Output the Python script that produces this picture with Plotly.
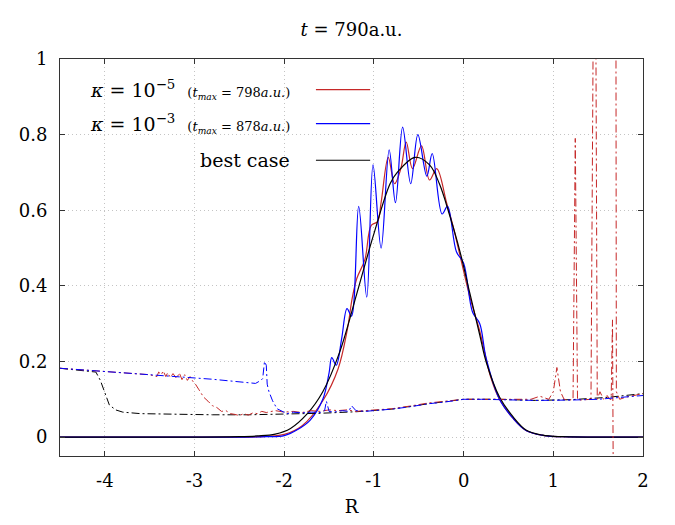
import plotly.graph_objects as go

# ---------------- data ----------------
# solid curves (densities)
black_x = [-4.5, -3.0, -2.5, -2.3, -2.1, -1.93, -1.75, -1.57, -1.38, -1.19, -1.01, -0.82, -0.74, -0.54,
           -0.38, -0.27, -0.16, -0.04, 0.07, 0.18, 0.25, 0.4, 0.55, 0.7, 0.88, 1.1, 2.0]
black_y = [0, 0, 0.001, 0.003, 0.008, 0.023, 0.06, 0.12, 0.226, 0.38, 0.53, 0.67, 0.70, 0.74,
           0.72, 0.67, 0.59, 0.49, 0.38, 0.27, 0.2, 0.106, 0.054, 0.018, 0.005, 0.001, 0]

red_x = [-4.5, -3.0, -2.5, -2.2, -2.0, -1.8, -1.57, -1.4, -1.3, -1.24, -1.19, -1.1, -1.03, -0.96, -0.92,
         -0.84, -0.77, -0.7, -0.64, -0.57, -0.47, -0.38, -0.3, -0.19, -0.12, -0.04, 0.07, 0.18, 0.3,
         0.4, 0.55, 0.7, 0.9, 1.1, 2.0]
red_y = [0, 0, 0.0, 0.002, 0.007, 0.03, 0.096, 0.18, 0.28, 0.37, 0.42, 0.47, 0.56, 0.57, 0.62,
         0.74, 0.67, 0.71, 0.78, 0.71, 0.77, 0.68, 0.71, 0.62, 0.56, 0.48, 0.37, 0.28, 0.16,
         0.1, 0.05, 0.017, 0.004, 0.001, 0]

blue_x = [-4.5, -3.0, -2.5, -2.2, -2.0, -1.85, -1.71, -1.57, -1.5, -1.47, -1.42, -1.36, -1.3, -1.25,
          -1.17, -1.08, -1.01, -0.92, -0.83, -0.76, -0.68, -0.59, -0.51, -0.41, -0.35, -0.24, -0.18,
          -0.08, 0.0, 0.1, 0.18, 0.25, 0.4, 0.55, 0.7, 0.9, 1.1, 2.0]
blue_y = [0, 0, 0, 0.001, 0.004, 0.02, 0.045, 0.10, 0.17, 0.21, 0.19, 0.26, 0.34, 0.32,
          0.61, 0.37, 0.72, 0.50, 0.76, 0.62, 0.82, 0.67, 0.80, 0.69, 0.75, 0.59, 0.61,
          0.49, 0.46, 0.33, 0.30, 0.21, 0.10, 0.05, 0.017, 0.004, 0.001, 0]

# dash-dot curves
kblack_x = [-4.5, -4.1, -4.05, -4.0, -3.95, -3.88, -3.8, -3.6, -3.2, -2.8, -2.4, -2.0, -1.6, -1.2,
            -0.8, -0.4, 0.0, 0.4, 0.8, 1.2, 1.6, 2.0]
kblack_y = [0.182, 0.172, 0.15, 0.115, 0.085, 0.072, 0.066, 0.062, 0.06, 0.059, 0.059, 0.06, 0.063,
            0.067, 0.074, 0.088, 0.1, 0.1, 0.097, 0.099, 0.105, 0.115]

kblue_x = [-4.5, -3.5, -2.8, -2.32, -2.26, -2.24, -2.22, -2.2, -2.19, -2.17, -2.13, -2.08, -2.03,
           -1.97, -1.9, -1.8, -1.7, -1.6, -1.55, -1.53, -1.5, -1.45, -1.35, -1.28, -1.25, -1.2, -1.1,
           -1.0, -0.8, -0.6, -0.4, -0.2, 0.0, 0.2, 0.4, 0.6, 0.8, 1.0, 1.2, 1.5, 1.8, 2.0]
kblue_y = [0.182, 0.164, 0.153, 0.142, 0.15, 0.155, 0.2, 0.19, 0.14, 0.12, 0.096, 0.075, 0.07,
           0.062, 0.066, 0.064, 0.066, 0.065, 0.07, 0.095, 0.068, 0.066, 0.07, 0.068, 0.083, 0.07, 0.068,
           0.07, 0.074, 0.08, 0.088, 0.093, 0.1, 0.1, 0.1, 0.098, 0.097, 0.097, 0.098, 0.1, 0.105, 0.11]

kred_x = [-4.5, -3.5, -3.42, -3.4, -3.37, -3.35, -3.32, -3.3, -3.27, -3.24, -3.2, -3.17, -3.14, -3.11,
          -3.08, -3.05, -3.02, -2.99, -2.95, -2.9, -2.85, -2.8, -2.75, -2.7, -2.65, -2.6, -2.55, -2.5,
          -2.45, -2.4, -2.35, -2.3, -2.25, -2.2, -2.1, -2.0, -1.9, -1.8, -1.7, -1.6, -1.5, -1.4, -1.3,
          -1.2, -1.1, -1.0, -0.8, -0.6, -0.4, -0.2, 0.0, 0.2, 0.4, 0.6, 0.75, 0.85, 0.95, 1.0, 1.04,
          1.08, 1.12, 1.18, 1.22, 1.245, 1.27, 1.3, 1.36, 1.42, 1.463, 1.49, 1.52, 1.56, 1.6, 1.63,
          1.645, 1.66, 1.672, 1.68, 1.695, 1.703, 1.74, 1.8, 1.9, 2.0]
kred_y = [0.182, 0.165, 0.16, 0.172, 0.165, 0.175, 0.16, 0.17, 0.158, 0.168, 0.155, 0.17, 0.152, 0.165,
          0.15, 0.16, 0.148, 0.14, 0.125, 0.106, 0.095, 0.083, 0.078, 0.068, 0.07, 0.062, 0.06, 0.057,
          0.062, 0.058, 0.064, 0.062, 0.068, 0.065, 0.07, 0.066, 0.068, 0.065, 0.07, 0.068, 0.072, 0.07,
          0.072, 0.068, 0.07, 0.071, 0.075, 0.082, 0.09, 0.095, 0.1, 0.1, 0.1, 0.098, 0.1, 0.108, 0.1,
          0.12, 0.184, 0.12, 0.1, 0.098, 0.1, 0.79, 0.1, 0.098, 0.1, 0.1, 1.8, 0.1, 0.12, 0.1, 0.11,
          0.1, 0.1, 0.31, -0.3, None, 1.8, 0.12, 0.1, 0.105, 0.11, 0.115]

x_ticks = [-4, -3, -2, -1, 0, 1, 2]
x_ticklabels = ["-4", "-3", "-2", "-1", "0", "1", "2"]
y_ticks = [0, 0.2, 0.4, 0.6, 0.8, 1]
y_ticklabels = ["0", "0.2", "0.4", "0.6", "0.8", "1"]

legend_labels = [
    "<i>κ</i> = 10<sup>−5</sup>  <span style='font-size:13px'>(<i>t<sub>max</sub></i> = 798<i>a.u.</i>)</span>",
    "<i>κ</i> = 10<sup>−3</sup>  <span style='font-size:13px'>(<i>t<sub>max</sub></i> = 878<i>a.u.</i>)</span>",
    "best case",
]

RED = "#c62828"
BLUE = "#0000ff"
BLACK = "#000000"
FONT = "DejaVu Serif"
DASHDOT = "8px,3px,2px,3px"

fig = go.Figure()
fig.add_trace(go.Scatter(x=red_x, y=red_y, mode="lines", line=dict(color=RED, width=1.2, shape="spline"),
                         showlegend=False))
fig.add_trace(go.Scatter(x=blue_x, y=blue_y, mode="lines", line=dict(color=BLUE, width=1.2, shape="spline"),
                         showlegend=False))
fig.add_trace(go.Scatter(x=black_x, y=black_y, mode="lines", line=dict(color=BLACK, width=1.2, shape="spline"),
                         showlegend=False))
fig.add_trace(go.Scatter(x=kblack_x, y=kblack_y, mode="lines", line=dict(color=BLACK, width=1, dash=DASHDOT),
                         showlegend=False))
fig.add_trace(go.Scatter(x=kred_x, y=kred_y, mode="lines", connectgaps=False,
                         line=dict(color=RED, width=1, dash=DASHDOT), showlegend=False))
fig.add_trace(go.Scatter(x=kblue_x, y=kblue_y, mode="lines", line=dict(color=BLUE, width=1, dash=DASHDOT),
                         showlegend=False))

# custom legend (text on left, line sample on right)
legend_colors = [RED, BLUE, BLACK]
legend_rows_y = [0.923, 0.837, 0.745]
for lab, col, yy in zip(legend_labels, legend_colors, legend_rows_y):
    fig.add_annotation(xref="paper", yref="paper", x=0.398, y=yy, text=lab, showarrow=False,
                       xanchor="right", yanchor="middle", font=dict(family=FONT, size=19, color="black"))
    fig.add_shape(type="line", xref="paper", yref="paper", x0=0.439, x1=0.532, y0=yy, y1=yy,
                  line=dict(color=col, width=1.2))

axis_common = dict(showline=True, linecolor="#333333", linewidth=1, mirror="allticks", ticks="inside",
                   ticklen=5, tickcolor="#333333", showgrid=True, gridcolor="#c4c4c4", griddash="1px,3px",
                   gridwidth=1, zeroline=False, tickfont=dict(family=FONT, size=18, color="black"))

fig.update_layout(
    width=675, height=525,
    margin=dict(l=60, r=32, t=59, b=62),
    paper_bgcolor="white", plot_bgcolor="white",
    font=dict(family=FONT, size=18, color="black"),
    title=dict(text="<i>t</i> = 790a.u.", x=0.5, xref="paper", y=1 - 30 / 525, yref="container",
               xanchor="center", yanchor="middle", font=dict(family=FONT, size=18, color="black")),
    xaxis=dict(range=[-4.5, 2], tickvals=x_ticks, ticktext=x_ticklabels, ticklabelstandoff=8,
               title=dict(text="R", font=dict(family=FONT, size=18, color="black"), standoff=10),
               **axis_common),
    yaxis=dict(range=[-0.05, 1], tickvals=y_ticks, ticktext=y_ticklabels, ticklabelstandoff=8,
               **axis_common),
)

fig.write_html("out.html")
